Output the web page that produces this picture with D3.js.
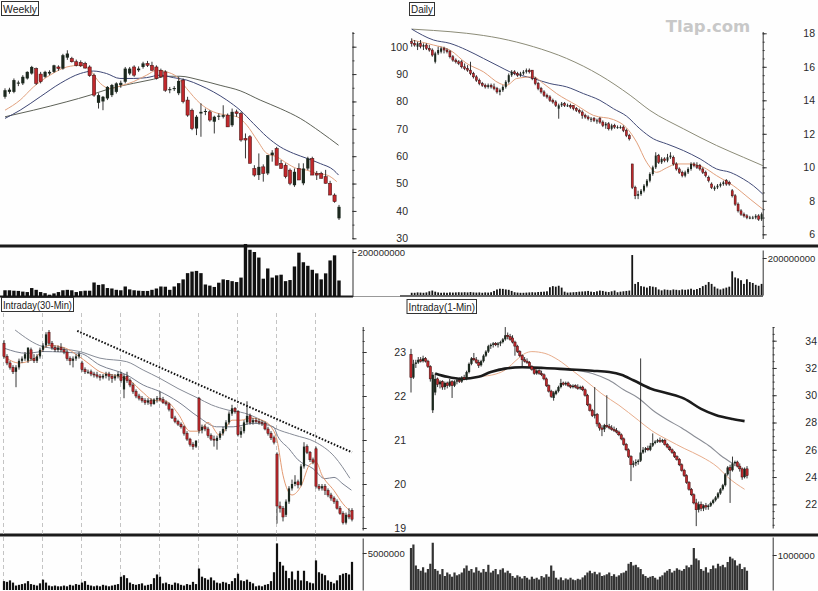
<!DOCTYPE html>
<html>
<head>
<meta charset="utf-8">
<script src="https://cdn.jsdelivr.net/npm/d3@7"></script>
<style>
  body { margin: 0; background: #fff; }
  svg { display: block; }
</style>
</head>
<body>
<svg id="chart" width="818" height="591"></svg>
<script>
// ---- Weekly ----
const weeklyTicks = [30, 40, 50, 60, 70, 80, 90, 100];
const weeklyBars = [
  [81.7,84.8,81.0,84.1],[83.5,85.0,82.8,84.3],[83.5,88.4,83.0,87.8],[86.5,87.6,85.6,86.9],
  [86.6,89.6,86.0,89.0],[88.4,91.0,88.0,90.8],[90.2,93.0,89.8,92.6],[92.0,92.4,86.0,86.6],
  [90.0,90.8,86.6,87.2],[89.0,91.2,88.6,90.8],[90.2,91.4,89.6,90.8],[90.8,93.4,90.4,93.2],
  [92.6,93.2,91.2,92.0],[92.0,97.4,91.6,96.9],[96.0,98.7,95.2,97.5],[95.7,96.3,94.2,94.5],
  [94.5,95.3,92.8,93.2],[94.3,95.0,92.6,93.0],[93.9,94.5,92.0,92.2],[92.6,93.2,89.0,89.4],
  [89.6,90.2,81.7,82.3],[79.5,83.0,77.4,82.3],[80.0,82.0,76.8,81.7],[81.1,85.6,80.5,85.3],
  [82.3,86.4,81.6,86.0],[83.5,87.0,82.9,86.6],[86.0,87.6,85.0,86.8],[87.2,92.6,86.6,92.0],
  [90.2,92.6,89.6,92.0],[92.6,93.2,89.0,89.6],[91.4,92.8,90.8,92.0],[92.6,94.5,92.0,93.9],
  [93.9,94.8,92.6,93.2],[93.2,94.5,91.2,91.4],[92.6,93.2,88.0,88.4],[91.4,92.0,88.6,89.0],
  [90.8,91.4,83.5,84.1],[84.1,85.3,83.0,84.5],[84.5,85.6,83.8,84.9],[83.0,89.0,82.3,87.5],
  [87.8,88.4,79.3,79.9],[80.5,81.7,74.4,75.0],[76.8,77.4,69.5,70.1],[70.1,75.0,67.7,74.4],
  [75.6,79.3,67.1,76.2],[76.2,77.4,75.0,76.5],[76.2,76.8,72.6,73.2],[72.6,74.8,68.3,74.4],
  [74.4,75.6,73.2,74.8],[74.4,78.6,73.8,75.0],[75.0,75.6,70.7,70.7],[71.3,77.4,70.7,76.2],
  [76.2,77.0,74.4,75.6],[75.6,76.2,65.3,65.9],[66.5,68.3,59.2,65.9],[67.1,67.7,57.4,57.4],
  [55.5,56.7,52.5,53.1],[53.1,61.0,51.3,56.1],[56.1,57.0,50.7,53.7],[53.7,60.4,53.1,60.4],
  [60.4,62.2,58.0,61.3],[62.8,63.4,56.7,56.7],[57.4,58.6,55.5,55.5],[56.7,57.4,51.9,52.5],
  [54.9,55.5,49.4,50.1],[49.4,55.5,48.8,54.3],[55.5,57.4,51.3,51.3],[50.1,57.4,49.4,55.5],
  [55.5,59.8,54.9,59.2],[59.2,59.8,53.1,53.1],[53.7,54.6,51.3,53.1],[53.7,54.3,51.9,51.9],
  [52.5,55.0,50.0,50.1],[50.1,51.0,45.8,45.8],[45.8,46.4,43.0,43.4],[37.3,42.2,36.7,41.5]
];
// volume in millions
const weeklyVolume = [28,28,26,25,22,20,38,30,20,15, 8,14,20,28,30,28,20,24,26,26,
  63,52,55,38,36,30,28,45,32,28, 26,25,25,30,36,45,44,30,45,60,
  77,105,112,115,105,54,49,43,62,77, 74,69,65,85,236,210,200,175,80,126,
  85,95,98,69,74,135,197,154,138,120, 104,77,104,162,185,72];
const weeklyMaShort = [[0,76.8],[3.4,80.5],[6.4,85.3],[10.1,89.6],[13.9,92.6],[16.9,93.2],[19.1,91.4],[21.4,86.6],
  [23.6,84.7],[25.8,85.6],[28.8,87.2],[31.8,89.6],[34.1,91.4],[36.3,90.8],[38.6,89.0],[40.8,84.7],[43.8,79.3],
  [46.8,76.2],[49.8,75.0],[52.1,74.4],[54.3,71.3],[56.6,65.9],[58.8,61.0],[61.0,59.8],[63.3,57.4],[65.5,55.5],
  [67.8,54.9],[70.0,53.7],[72.3,53.1],[74.5,50.7]];
const weeklyMaMid = [[0,73.8],[3.4,76.8],[7.9,81.7],[12.4,86.6],[16.9,90.2],[19.9,91.1],[22.8,90.2],[25.8,88.4],
  [28.8,88.4],[31.8,88.7],[34.8,89.6],[37.8,88.7],[40.8,87.8],[43.8,85.9],[46.8,83.5],[49.8,80.5],[52.8,76.8],
  [55.8,71.9],[58.8,67.1],[61.8,63.4],[64.8,61.0],[67.8,59.2],[70.8,57.3],[73.8,54.9],[74.9,53.1]];
const weeklyMaLong = [[0,74.4],[6.4,76.8],[13.9,79.9],[19.1,82.3],[23.6,84.7],[28.8,86.6],[33.3,88.1],[36.3,89.2],
  [39.3,89.2],[43.8,87.8],[48.3,85.9],[52.8,83.9],[57.3,80.5],[61.8,77.4],[66.3,73.8],[70.8,68.9],[74.9,64.0]];

// ---- Daily ----
const dailyTicks = [6, 8, 10, 12, 14, 16, 18];
const dailyBars = [
  [17.5,17.7,17.2,17.4],[17.4,17.6,17.2,17.3],[17.2,17.5,17.0,17.4],[17.4,17.6,17.1,17.2],[17.2,17.4,17.0,17.3],
  [17.3,17.4,17.0,17.1],[17.1,17.3,16.9,17.0],[17.0,17.1,16.6,16.7],[16.3,16.9,16.2,16.8],[16.8,17.2,16.7,17.0],
  [16.9,17.2,16.8,17.1],[17.1,17.2,16.8,17.0],[17.0,17.1,16.8,16.9],[16.9,17.0,16.5,16.6],[16.6,16.7,16.3,16.4],
  [16.4,16.5,16.2,16.3],[16.3,16.4,16.1,16.2],[16.3,16.4,15.9,16.0],[16.0,16.2,15.8,15.9],[15.9,16.1,15.7,15.8],
  [15.8,16.3,15.5,15.6],[15.6,15.7,15.3,15.4],[15.4,15.5,15.1,15.2],[15.2,15.3,14.9,15.0],[15.0,15.1,14.8,14.9],
  [14.9,15.0,14.7,14.8],[14.8,15.0,14.7,14.9],[14.9,15.0,14.7,14.8],[14.8,15.0,14.6,14.7],[14.7,14.8,14.4,14.5],
  [14.5,14.7,14.3,14.6],[14.6,14.9,14.5,14.8],[14.8,15.2,14.7,15.1],[15.1,15.6,15.0,15.5],[15.5,15.8,15.4,15.7],
  [15.7,15.8,15.5,15.6],[15.6,15.7,15.4,15.5],[15.5,15.7,15.4,15.6],[15.6,15.8,15.5,15.7],[15.7,15.9,15.6,15.8],
  [15.8,15.9,15.6,15.7],[15.8,15.8,15.2,15.3],[15.3,15.4,14.9,15.0],[15.0,15.1,14.6,14.7],[14.7,14.8,14.4,14.5],
  [14.5,14.6,14.2,14.3],[14.3,14.4,14.1,14.2],[14.2,14.3,13.9,14.0],[14.0,14.1,13.8,13.9],[13.9,14.0,13.6,13.7],
  [13.5,13.8,12.9,13.7],[13.7,13.9,13.6,13.8],[13.8,13.9,13.6,13.7],[13.7,13.8,13.6,13.7],[13.7,13.8,13.5,13.6],
  [13.7,13.7,13.4,13.5],[13.5,13.6,13.3,13.4],[13.4,13.5,13.2,13.3],[13.3,13.4,12.9,13.1],[13.1,13.2,12.9,13.0],
  [13.0,13.1,12.8,12.9],[12.9,13.0,12.7,12.9],[12.9,13.0,12.7,12.8],[12.8,12.9,12.6,12.8],[12.9,13.0,12.6,12.7],
  [12.7,12.8,12.4,12.5],[12.5,12.7,12.3,12.6],[12.6,12.7,12.2,12.3],[12.3,12.6,12.2,12.5],[12.5,12.6,12.3,12.4],
  [12.4,12.5,12.3,12.4],[12.4,12.5,12.3,12.4],[12.4,12.5,12.1,12.2],[12.2,12.3,11.8,11.9],[11.9,12.0,11.6,11.7],
  [10.2,10.2,8.7,8.8],[8.8,8.9,8.1,8.3],[8.3,8.6,8.1,8.4],[8.4,8.7,8.3,8.6],[8.6,9.0,8.5,8.9],
  [8.9,9.3,8.8,9.2],[9.2,9.7,9.1,9.6],[9.6,10.1,9.5,10.0],[10.0,10.9,9.9,10.7],[10.7,10.8,10.2,10.3],
  [10.3,10.6,10.2,10.5],[10.5,10.6,10.3,10.4],[10.4,10.8,10.3,10.6],[10.6,10.9,10.5,10.7],[10.6,10.7,10.1,10.2],
  [10.2,10.3,9.8,9.9],[9.9,10.0,9.6,9.7],[9.7,9.8,9.4,9.5],[9.5,9.8,9.4,9.7],[9.7,10.0,9.6,9.9],
  [9.9,10.3,9.8,10.2],[10.2,10.3,10.0,10.1],[10.1,10.3,9.9,10.0],[10.1,10.2,9.8,9.9],[9.9,10.0,9.6,9.7],
  [9.7,9.8,9.4,9.5],[9.4,9.5,9.1,9.2],[9.0,9.1,8.7,8.8],[8.7,8.9,8.6,8.8],[8.8,9.0,8.7,8.9],
  [8.9,9.1,8.8,9.0],[9.0,9.2,8.9,9.1],[9.2,9.3,8.9,9.0],[9.1,9.2,8.9,9.0],[8.6,8.7,8.2,8.3],
  [8.3,8.4,7.7,7.8],[7.8,7.9,7.3,7.4],[7.4,7.5,7.1,7.2],[7.2,7.3,7.0,7.1],[7.1,7.2,6.9,7.0],
  [7.0,7.1,6.9,7.0],[7.0,7.1,6.9,7.0],[7.0,7.2,6.9,7.1],[7.1,7.2,6.8,6.9],[6.9,7.3,6.8,7.2]
];
const dailyVolume = [12,12,14,13,12,14,20,24,18,14, 12,13,12,14,13,14,15,14,15,14,
  16,14,13,14,12,14,13,15,22,30, 34,33,30,28,22,15,13,12,12,13,
  14,15,14,16,17,18,20,42,48,45, 50,40,18,13,14,15,16,18,19,20,
  22,18,16,20,24,22,18,16,20,24, 15,18,20,22,24,216,60,70,48,45,
  40,48,45,42,30,25,30,28,26,30, 28,26,30,28,30,34,28,32,38,48,
  55,70,60,45,35,30,35,40,45,128, 95,90,80,60,85,70,65,55,50,60];
const dailyMaShort = [[0,17.6],[7.4,17.3],[13.0,17.0],[18.7,16.2],[24.4,15.7],[30.0,15.0],[32.3,14.9],[35.7,15.3],
  [41.4,15.4],[44.8,15.0],[49.3,14.4],[56.1,13.7],[61.8,13.1],[68.6,12.85],[73.1,12.35],[76.5,11.5],[79.9,10.3],
  [83.3,9.7],[86.7,9.97],[90.1,10.2],[94.7,10.2],[99.2,10.0],[103.7,9.5],[109.4,8.9],[115.1,8.1],[119.4,7.5]];
const dailyMaMid = [[0,18.25],[7.4,17.6],[13.0,17.4],[18.7,17.0],[24.4,16.5],[30.0,16.0],[33.4,15.7],[41.4,15.3],
  [47.0,15.0],[52.7,14.8],[58.4,14.4],[64.0,14.0],[68.6,13.5],[73.1,13.05],[77.6,12.3],[82.2,11.7],[86.7,11.4],
  [92.4,11.0],[98.1,10.5],[103.7,9.9],[108.3,9.7],[112.8,9.3],[116.2,8.9],[119.4,8.4]];
const dailyMaLong = [[0,18.25],[7.4,18.17],[18.7,18.0],[30.0,17.7],[41.4,17.2],[52.7,16.5],[64.0,15.5],[74.3,14.3],
  [81.0,13.4],[92.4,12.3],[103.7,11.3],[112.8,10.6],[119.4,10.1]];

// ---- Intraday 30-min ----
const min30Ticks = [19, 20, 21, 22, 23];
const min30DayStarts = [0, 13, 26, 39, 52, 65, 78, 91, 104];
const min30Bars = [
  [23.2,23.27,22.85,22.9],[22.9,22.95,22.7,22.75],[22.75,22.8,22.6,22.65],[22.65,22.7,22.5,22.55],[22.55,22.7,22.2,22.65],
  [22.65,22.85,22.6,22.8],[22.8,22.9,22.75,22.85],[22.85,23.0,22.8,22.95],[22.8,23.1,22.75,23.1],[23.05,23.1,22.8,22.85],
  [22.85,22.95,22.75,22.8],[22.8,22.95,22.75,22.9],[22.9,23.1,22.85,23.05],[23.05,23.2,23.0,23.15],[23.15,23.45,23.1,23.4],
  [23.45,23.5,23.15,23.2],[23.2,23.25,23.05,23.1],[23.1,23.15,23.0,23.05],[23.05,23.15,23.0,23.1],[23.1,23.2,23.0,23.05],
  [23.05,23.1,22.95,23.0],[23.0,23.05,22.8,22.85],[22.85,22.9,22.7,22.8],[22.8,22.9,22.65,22.85],[22.85,22.95,22.8,22.9],
  [22.9,23.0,22.85,22.95],[22.75,22.8,22.55,22.6],[22.6,22.65,22.5,22.55],[22.55,22.6,22.5,22.55],[22.55,22.6,22.45,22.5],
  [22.5,22.55,22.42,22.48],[22.48,22.55,22.4,22.45],[22.45,22.5,22.35,22.42],[22.42,22.5,22.38,22.46],[22.46,22.55,22.4,22.5],
  [22.5,22.55,22.35,22.45],[22.45,22.5,22.3,22.4],[22.4,22.5,22.35,22.45],[22.45,22.55,22.4,22.5],[22.5,22.55,22.3,22.35],
  [22.15,22.5,21.95,22.45],[22.45,22.55,22.3,22.35],[22.35,22.4,22.2,22.25],[22.25,22.3,22.05,22.1],[22.1,22.15,21.95,22.0],
  [22.0,22.05,21.9,21.95],[21.95,22.0,21.85,21.9],[21.9,21.95,21.8,21.85],[21.85,21.95,21.8,21.9],[21.9,21.95,21.76,21.82],
  [21.82,21.95,21.8,21.92],[21.92,22.0,21.85,21.95],[21.95,22.1,21.88,21.92],[21.92,21.98,21.82,21.85],[21.85,21.9,21.78,21.82],
  [21.82,21.85,21.65,21.7],[21.7,21.72,21.48,21.5],[21.5,21.55,21.38,21.42],[21.42,21.46,21.32,21.36],[21.36,21.4,21.26,21.3],
  [21.3,21.33,21.1,21.15],[21.15,21.2,20.98,21.02],[21.02,21.05,20.85,20.9],[20.9,20.95,20.78,20.85],[20.85,21.0,20.82,20.98],
  [21.95,21.98,21.15,21.22],[21.22,21.35,21.15,21.3],[21.3,21.35,21.2,21.25],[21.25,21.3,21.05,21.1],[21.1,21.15,20.98,21.02],
  [21.02,21.1,20.85,21.0],[20.98,21.1,20.78,21.05],[21.05,21.2,21.0,21.15],[21.15,21.3,21.1,21.25],[21.25,21.45,21.2,21.4],
  [21.4,21.65,21.35,21.6],[21.6,21.8,21.55,21.72],[21.72,21.75,21.6,21.65],[21.65,21.68,21.08,21.12],[21.12,21.3,21.05,21.2],
  [21.2,21.45,21.15,21.4],[21.4,21.88,21.35,21.55],[21.55,21.6,21.35,21.4],[21.4,21.5,21.35,21.45],[21.45,21.5,21.38,21.42],
  [21.42,21.48,21.35,21.4],[21.4,21.45,21.32,21.38],[21.38,21.42,21.22,21.25],[21.25,21.3,21.1,21.15],[21.15,21.2,21.0,21.05],
  [21.05,21.1,20.9,20.95],[20.68,20.72,19.1,19.5],[19.5,19.6,19.35,19.45],[19.45,19.5,19.15,19.25],[19.3,19.65,19.25,19.6],
  [19.6,19.95,19.55,19.9],[19.9,20.1,19.85,20.0],[20.0,20.2,19.95,20.05],[20.05,20.1,19.9,19.98],[19.98,20.45,19.95,20.4],
  [20.4,20.95,20.35,20.85],[20.85,20.9,20.68,20.72],[20.72,20.75,20.5,20.55],[20.55,20.6,20.45,20.5],[20.8,20.85,19.9,19.95],
  [19.95,20.0,19.85,19.9],[19.9,20.0,19.85,19.95],[19.95,20.0,19.75,19.85],[19.85,19.9,19.7,19.75],[19.75,19.8,19.62,19.68],
  [19.68,19.72,19.55,19.6],[19.6,19.65,19.42,19.45],[19.45,19.5,19.3,19.33],[19.33,19.38,19.08,19.12],[19.12,19.35,19.08,19.3],
  [19.3,19.45,19.2,19.25],[19.4,19.45,19.15,19.2]
];
const min30Volume = [1.2,1.1,1.3,1.0, 0.6,0.7,0.8,0.9,1.2,0.8,0.7,0.6,0.9, 1.4,1.0,
  0.6,0.5,0.6,0.5,0.5,0.6,0.5,0.7,0.6,0.8,0.7, 1.0,1.2,
  0.7,0.6,0.5,0.6,0.5,0.7,0.6,0.5,0.6,0.7,0.8, 1.8,2.0,1.6,
  1.0,0.8,0.7,0.8,0.9,0.6,0.7,0.8, 1.6,2.1,1.8,
  0.9,1.0,0.8,0.7,1.0,0.9,0.7,0.6,0.8,0.7,1.1,0.8, 2.9,
  1.8,1.6,1.4,1.7,1.3, 1.0,0.9,1.1,1.0,0.8,1.2, 1.6,2.2,
  1.3,1.2,1.4,1.1,0.9, 0.5,0.6,0.5,0.7,0.8,1.2, 2.4,6.3,
  3.8,3.3,2.6,1.6,2.5,1.4,2.6,1.3,2.6,1.2,1.0,0.9,
  4.0,2.4,2.2,2.0,1.3,1.1,0.9,1.3,2.0,2.2,2.3,2.1,3.8];
const min30MaShort = [[0,22.9],[5,22.75],[10,22.85],[15,23.15],[20,23.1],[25,22.9],[28,22.75],[32,22.55],[38,22.45],
  [42,22.35],[46,22.1],[50,21.9],[54,21.88],[58,21.6],[62,21.2],[65,21.2],[68,21.4],[72,21.1],[76,21.45],[79,21.45],
  [82,21.5],[86,21.45],[89,21.3],[91,21.0],[93,20.2],[96,19.75],[99,19.95],[102,20.45],[104,20.5],[106,20.2],
  [110,19.85],[113,19.55],[116,19.35]];
const min30MaA = [[3.7,23.5],[13.1,23.12],[25.3,23.01],[32,22.86],[40.9,22.78],[46.4,22.59],[52,22.4],[58,22.17],
  [64.7,21.95],[69.1,21.8],[74.7,21.68],[80.2,21.61],[85.8,21.45],[90.2,21.27],[96.9,21.11],[103.6,20.96],
  [110.2,20.62],[115.3,20.13]];
const min30MaB = [[0.3,23.08],[7.6,22.97],[13.1,23.01],[25.3,22.97],[32,22.7],[40.9,22.48],[46.4,22.25],[52,22.1],
  [58,21.87],[64.7,21.53],[70.9,21.3],[76.4,21.3],[83.1,21.38],[89.8,21.3],[91.3,21.08],[95,20.8],[98,20.55],
  [103,20.35],[107,20.12],[110,20.15],[113,20.0],[115.8,19.86]];
const min30Trend = [[24.4,23.48],[116,20.72]];

// ---- Intraday 1-min ----
const min1Ticks = [22, 24, 26, 28, 30, 32, 34];
const min1Bars = [
  [33.0,33.4,30.2,31.3],[31.3,32.6,31.2,32.3],[32.3,32.6,32.0,32.4],[32.4,32.8,32.3,32.6],[32.6,32.8,32.4,32.5],
  [32.5,32.9,32.4,32.7],[32.7,32.8,32.4,32.5],[32.5,32.6,32.0,32.1],[32.1,32.2,31.0,31.2],[28.9,31.7,28.7,31.5],
  [30.2,31.6,30.0,31.2],[31.2,31.3,30.6,30.8],[30.8,31.1,30.5,31.0],[31.0,31.1,30.4,30.6],[30.6,31.0,30.4,30.9],
  [30.9,31.0,30.5,30.7],[30.7,31.2,30.6,31.0],[31.0,31.1,29.8,30.7],[30.7,31.1,30.6,31.0],[31.0,31.2,30.8,31.1],
  [31.1,31.3,30.9,31.0],[31.0,31.4,30.9,31.3],[31.3,31.5,31.1,31.2],[31.2,31.8,31.1,31.7],[31.7,32.4,31.6,32.3],
  [32.3,32.8,32.2,32.7],[32.7,33.1,32.5,32.6],[32.6,32.8,32.3,32.4],[32.4,32.6,32.0,32.2],[32.2,32.6,32.1,32.5],
  [32.5,33.0,32.4,32.9],[32.9,33.3,32.8,33.2],[33.2,33.7,33.1,33.6],[33.6,33.8,33.4,33.7],[33.7,33.9,33.5,33.8],
  [33.8,33.9,33.6,33.7],[33.7,33.9,33.5,33.8],[33.8,34.0,33.6,33.9],[33.9,34.2,33.8,34.1],[34.1,35.0,34.0,34.4],
  [34.4,34.6,34.1,34.3],[34.3,34.5,34.0,34.1],[34.2,34.4,33.8,33.9],[33.9,34.0,32.9,33.6],[33.6,33.7,33.1,33.2],
  [33.2,33.3,32.8,32.9],[32.9,33.0,32.1,32.6],[32.6,32.8,32.4,32.5],[32.5,32.7,32.3,32.4],[32.4,32.5,32.0,32.1],
  [32.1,32.2,31.8,31.9],[31.9,32.0,31.5,31.6],[31.6,31.9,31.5,31.8],[31.8,31.9,31.5,31.6],[31.6,31.8,31.4,31.5],
  [31.5,31.6,31.1,31.2],[31.2,31.3,30.6,30.7],[30.7,30.8,30.2,30.3],[30.3,30.4,29.8,29.9],[29.8,30.3,29.6,30.2],
  [30.1,30.4,30.0,30.3],[30.3,30.7,30.2,30.6],[30.6,31.2,30.5,30.9],[30.9,31.0,30.7,30.8],[30.8,31.0,30.7,30.9],
  [30.9,31.0,30.6,30.7],[30.7,30.8,30.5,30.6],[30.6,30.8,30.5,30.7],[30.7,30.8,30.5,30.6],[30.6,30.8,30.4,30.5],
  [30.5,30.7,30.4,30.6],[30.6,30.7,30.3,30.4],[30.4,30.5,29.9,30.0],[30.0,30.1,29.2,29.3],[29.3,29.4,28.8,28.9],
  [28.9,29.0,28.4,28.5],[28.5,30.6,28.3,28.6],[28.6,28.7,27.7,27.9],[27.9,28.0,27.4,27.6],[27.6,27.8,27.0,27.5],
  [27.5,27.9,27.3,27.8],[27.8,30.0,27.6,27.7],[27.7,27.9,27.5,27.6],[27.6,27.8,27.4,27.5],[27.5,27.7,27.3,27.4],
  [27.4,27.6,27.2,27.3],[27.3,27.4,27.0,27.1],[27.1,27.2,26.7,26.8],[26.8,26.9,26.3,26.4],[26.4,26.5,25.9,26.0],
  [26.0,26.1,25.4,25.5],[25.5,25.6,23.7,24.9],[24.9,25.2,24.7,25.0],[25.0,25.3,24.8,25.1],[25.1,25.3,24.9,25.2],
  [25.2,32.7,25.1,25.8],[25.8,26.2,25.7,26.0],[26.0,26.2,25.8,26.1],[26.1,26.3,25.9,26.0],[26.0,26.5,25.9,26.3],
  [26.3,27.2,26.2,26.5],[26.5,26.7,26.4,26.6],[26.6,26.8,26.5,26.7],[26.7,26.9,26.5,26.6],[26.6,26.8,26.5,26.7],
  [26.7,26.8,26.3,26.4],[26.4,26.5,26.1,26.2],[26.2,26.3,25.9,26.0],[26.0,26.1,25.7,25.8],[25.8,25.9,25.4,25.5],
  [25.5,25.6,25.2,25.3],[25.3,25.4,24.8,24.9],[24.9,25.0,24.4,24.5],[24.5,24.6,24.0,24.1],[24.1,24.2,23.5,23.6],
  [23.6,23.7,23.0,23.1],[23.1,23.2,22.6,22.7],[22.7,22.8,22.0,22.1],[22.1,22.4,20.4,21.6],[21.6,22.2,21.4,22.0],
  [22.0,22.2,21.5,21.7],[21.7,22.0,21.5,21.9],[21.9,22.1,21.6,21.8],[21.8,22.0,21.6,21.9],[21.9,22.2,21.8,22.1],
  [22.1,22.4,22.0,22.3],[22.3,22.6,22.2,22.5],[22.5,22.9,22.4,22.8],[22.8,23.2,22.7,23.1],[23.1,23.5,23.0,23.4],
  [23.4,24.3,23.3,24.2],[24.2,24.8,24.1,24.7],[24.7,24.9,22.1,24.5],[24.5,25.5,24.4,25.0],[25.0,25.2,24.8,25.1],
  [25.1,25.2,24.7,24.8],[24.8,25.0,24.4,24.6],[24.6,24.7,23.8,24.0],[24.0,24.7,23.9,24.6],[24.6,24.8,23.9,24.1]
];
const min1Volume = [1.2,1.3,0.7,0.6,0.55,0.65,0.5,0.6,0.75,1.35, 0.6,0.55,0.45,0.6,0.4,0.5,0.45,0.38,0.5,0.42,
  0.45,0.5,0.62,0.7,0.55,0.6,0.5,0.65,0.55,0.5, 0.6,0.52,0.72,0.5,0.55,0.6,0.45,0.58,0.62,0.5,
  0.55,0.48,0.4,0.35,0.42,0.38,0.33,0.4,0.35,0.3, 0.38,0.32,0.35,0.3,0.4,0.36,0.45,0.38,0.7,0.55,
  0.35,0.3,0.36,0.28,0.33,0.3,0.35,0.3,0.28,0.32, 0.3,0.36,0.42,0.5,0.55,0.48,0.52,0.45,0.5,0.4,
  0.42,0.45,0.5,0.4,0.45,0.38,0.42,0.48,0.5,0.55, 0.75,0.8,0.7,0.72,0.65,0.6,0.45,0.4,0.35,0.38,
  0.4,0.35,0.3,0.38,0.42,0.5,0.55,0.6,0.5,0.55, 0.62,0.58,0.55,0.6,0.7,0.65,0.72,1.2,0.9,0.85,
  0.6,0.55,0.65,0.5,0.6,0.7,0.62,0.75,0.68,0.72, 0.65,0.8,0.95,0.9,0.85,0.7,0.75,0.6,0.65,0.55];
const min1MaLong = [[10,31.6],[15,31.35],[21,31.2],[28,31.35],[33,31.7],[39,31.95],[46,32.05],[55,32.0],[65,31.9],
  [75,31.8],[82,31.7],[87,31.5],[92,31.1],[99,30.5],[106,30.15],[113,29.75],[120,29.0],[126,28.55],[133,28.25],[138,28.1]];
const min1MaMid = [[36,31.9],[45,32.1],[55,32.0],[65,31.9],[75,31.6],[82,31.1],[88,30.4],[94,29.8],[100,28.9],
  [106,28.2],[112,27.6],[118,26.9],[124,26.2],[128,25.6],[133,25.0]];
const min1MaShort = [[26.5,31.36],[33.4,31.48],[38.9,31.85],[44.4,32.7],[47.2,33.07],[50,33.2],[55.4,33.07],[61,32.58],
  [66.5,31.85],[72,31.1],[79,30.1],[86,29.27],[94,28.17],[99.6,27.4],[106.5,26.7],[113,26.1],[120,25.5],[127,24.7],
  [131,24.0],[138,23.1]];

const FONT = '"Liberation Sans", Arial, sans-serif';
const svg = d3.select('#chart');
svg.append('rect').attr('width', 818).attr('height', 591).attr('fill', '#fefefe');

const panels = [
  { title: 'Weekly', box: [1.5, 1.5, 37, 14], bars: weeklyBars, volume: weeklyVolume, volUnit: 1e6,
    xRange: [5, 339], ticks: weeklyTicks, tickY: [238.3, 46.7], minorStep: 5,
    axisX: 352.5, axisTop: 31.5, axisBottom: 238.5, labelX: 408,
    volBase: 296.5, volRef: 200e6, volRefY: 252, volTop: 249, bodyW: 3.2, volW: 3.4, volFill: '#111',
    mas: [{ d: weeklyMaLong, c: '#5e6258', w: 1 }, { d: weeklyMaMid, c: '#3e4775', w: 1 }, { d: weeklyMaShort, c: '#e2a27e', w: 1 }] },
  { title: 'Daily', box: [409.5, 2.5, 25, 13], bars: dailyBars, volume: dailyVolume, volUnit: 1e6,
    xRange: [411.7, 761.6], ticks: dailyTicks, tickY: [234.3, 33.3], minorStep: 0.5,
    axisX: 762.7, axisTop: 31.5, axisBottom: 238.5, labelX: 815,
    volBase: 295, volRef: 200e6, volRefY: 258, volTop: 250, bodyW: 2.0, volW: 1.8, volFill: '#151515',
    mas: [{ d: dailyMaLong, c: '#8c8c78', w: 1 }, { d: dailyMaMid, c: '#434c78', w: 1 }, { d: dailyMaShort, c: '#e2a07c', w: 1 }] },
  { title: 'Intraday(30-Min)', box: [1.5, 297.5, 72, 14], bars: min30Bars, volume: min30Volume, volUnit: 1e6,
    xRange: [4, 352], ticks: min30Ticks, tickY: [528, 352], minorStep: 0.25,
    axisX: 362.7, axisTop: 326.5, axisBottom: 530, labelX: 406,
    volBase: 590, volRef: 5e6, volRefY: 553, volTop: 538, bodyW: 2.2, volW: 2.2, volFill: '#111',
    days: min30DayStarts, trend: min30Trend,
    mas: [{ d: min30MaA, c: '#878c97', w: 1 }, { d: min30MaB, c: '#7b8190', w: 1 }, { d: min30MaShort, c: '#e39a72', w: 1 }] },
  { title: 'Intraday(1-Min)', box: [407, 299.5, 69.5, 14], bars: min1Bars, volume: min1Volume, volUnit: 1e6,
    xRange: [411, 747], ticks: min1Ticks, tickY: [504.3, 340.7], minorStep: 0.5,
    axisX: 772.7, axisTop: 326.5, axisBottom: 528, labelX: 817,
    volBase: 590, volRef: 1e6, volRefY: 555, volTop: 537, bodyW: 2.3, volW: 2.2, volFill: '#333',
    mas: [{ d: min1MaShort, c: '#e8ad8c', w: 1 }, { d: min1MaMid, c: '#8b8e96', w: 1.1 }, { d: min1MaLong, c: '#1b1b1b', w: 2.6 }] }
];

// separators between panes
svg.append('rect').attr('x', 0).attr('y', 244.5).attr('width', 818).attr('height', 3).attr('fill', '#1c1c1c');
svg.append('rect').attr('x', 0).attr('y', 533.5).attr('width', 818).attr('height', 3).attr('fill', '#1c1c1c');
svg.append('line').attr('x1', 0).attr('x2', 353).attr('y1', 296.5).attr('y2', 296.5).attr('stroke', '#1c1c1c').attr('stroke-width', 2);
svg.append('line').attr('x1', 353).attr('x2', 400).attr('y1', 296.5).attr('y2', 296.5).attr('stroke', '#999').attr('stroke-width', 1);
svg.append('line').attr('x1', 400).attr('x2', 763).attr('y1', 296).attr('y2', 296).attr('stroke', '#333').attr('stroke-width', 1.5);

function drawPanel(p) {
  const g = svg.append('g');
  const n = p.bars.length;
  const x = d3.scaleLinear().domain([0, n - 1]).range(p.xRange);
  const y = d3.scaleLinear().domain([p.ticks[0], p.ticks[p.ticks.length - 1]]).range(p.tickY);

  // day separators (intraday)
  if (p.days) {
    g.selectAll('line.day').data(p.days).join('line')
      .attr('x1', d => x(d) - 0.5).attr('x2', d => x(d) - 0.5)
      .attr('y1', 313).attr('y2', 591)
      .attr('stroke', '#c4c4c4').attr('stroke-width', 1).attr('stroke-dasharray', '4,3');
  }

  // moving averages
  const line = d3.line().x(d => x(d[0])).y(d => y(d[1])).curve(d3.curveMonotoneX);
  p.mas.forEach(m => {
    g.append('path').attr('d', line(m.d)).attr('fill', 'none')
      .attr('stroke', m.c).attr('stroke-width', m.w);
  });

  // candles
  g.selectAll('line.wick').data(p.bars).join('line')
    .attr('x1', (d, i) => x(i)).attr('x2', (d, i) => x(i))
    .attr('y1', d => y(d[1])).attr('y2', d => y(d[2]))
    .attr('stroke', '#202020').attr('stroke-width', 0.9);
  g.selectAll('rect.body').data(p.bars).join('rect')
    .attr('x', (d, i) => x(i) - p.bodyW / 2).attr('width', p.bodyW)
    .attr('y', d => y(Math.max(d[0], d[3])))
    .attr('height', d => Math.max(1, Math.abs(y(d[0]) - y(d[3]))))
    .attr('fill', d => d[3] >= d[0] ? '#1c281e' : '#c0282c')
    .attr('stroke', d => d[3] >= d[0] ? 'none' : '#3a0e0e')
    .attr('stroke-width', 0.5);

  // trend line (dotted)
  if (p.trend) {
    g.append('path').attr('d', d3.line().x(d => x(d[0])).y(d => y(d[1]))(p.trend))
      .attr('fill', 'none').attr('stroke', '#111').attr('stroke-width', 2)
      .attr('stroke-dasharray', '1.6,1.7');
  }

  // price axis
  const ya = y.copy().domain([y.invert(p.axisBottom), y.invert(p.axisTop)]).range([p.axisBottom, p.axisTop]);
  const lo = ya.domain()[0], hi = ya.domain()[1];
  const minor = d3.range(Math.ceil(lo / p.minorStep) * p.minorStep, hi, p.minorStep);
  const axMinor = g.append('g').attr('transform', `translate(${p.axisX},0)`)
    .call(d3.axisRight(ya).tickValues(minor).tickSize(2).tickSizeOuter(0).tickFormat(''));
  axMinor.select('.domain').remove();
  axMinor.selectAll('line').attr('stroke', '#444');
  const ax = g.append('g').attr('transform', `translate(${p.axisX},0)`)
    .call(d3.axisRight(ya).tickValues(p.ticks).tickSize(4).tickSizeOuter(0).tickFormat(d3.format('d')));
  ax.attr('font-family', FONT).attr('font-size', 10.5);
  ax.select('.domain').attr('stroke', '#333');
  ax.selectAll('line').attr('stroke', '#333');
  ax.selectAll('text').attr('x', p.labelX - p.axisX).attr('text-anchor', 'end').attr('fill', '#2a2a2a');

  // volume
  const yv = d3.scaleLinear().domain([0, p.volRef]).range([p.volBase, p.volRefY]);
  g.selectAll('rect.vol').data(p.volume).join('rect')
    .attr('x', (d, i) => x(i) - p.volW / 2).attr('width', p.volW)
    .attr('y', d => yv(d * p.volUnit))
    .attr('height', d => p.volBase - yv(d * p.volUnit))
    .attr('fill', p.volFill);
  const yva = yv.copy().domain([0, yv.invert(p.volTop)]).range([p.volBase, p.volTop]);
  const vax = g.append('g').attr('transform', `translate(${p.axisX},0)`)
    .call(d3.axisRight(yva).tickValues([p.volRef]).tickSize(4).tickSizeOuter(0).tickFormat(d3.format('d')));
  vax.attr('font-family', FONT).attr('font-size', 9.5);
  vax.select('.domain').attr('stroke', '#333');
  vax.selectAll('line').attr('stroke', '#333');
  vax.selectAll('text').attr('x', 5).attr('fill', '#2a2a2a');

  // title box
  g.append('rect').attr('x', p.box[0]).attr('y', p.box[1]).attr('width', p.box[2]).attr('height', p.box[3])
    .attr('fill', '#fff').attr('stroke', '#333').attr('stroke-width', 1);
  g.append('text').attr('x', p.box[0] + 1.5).attr('y', p.box[1] + p.box[3] - 3)
    .attr('font-family', FONT).attr('font-size', 10.5).attr('fill', '#1a1a1a')
    .attr('textLength', p.box[2] - 3).attr('lengthAdjust', 'spacingAndGlyphs')
    .text(p.title);
}

panels.forEach(drawPanel);

// watermark
svg.append('text').attr('x', 708).attr('y', 32).attr('text-anchor', 'middle')
  .attr('font-family', '"DejaVu Sans", Verdana, sans-serif').attr('font-weight', 'bold')
  .attr('font-size', 16.5).attr('fill', '#c8c8c8').text('Tlap.com');
</script>
</body>
</html>
